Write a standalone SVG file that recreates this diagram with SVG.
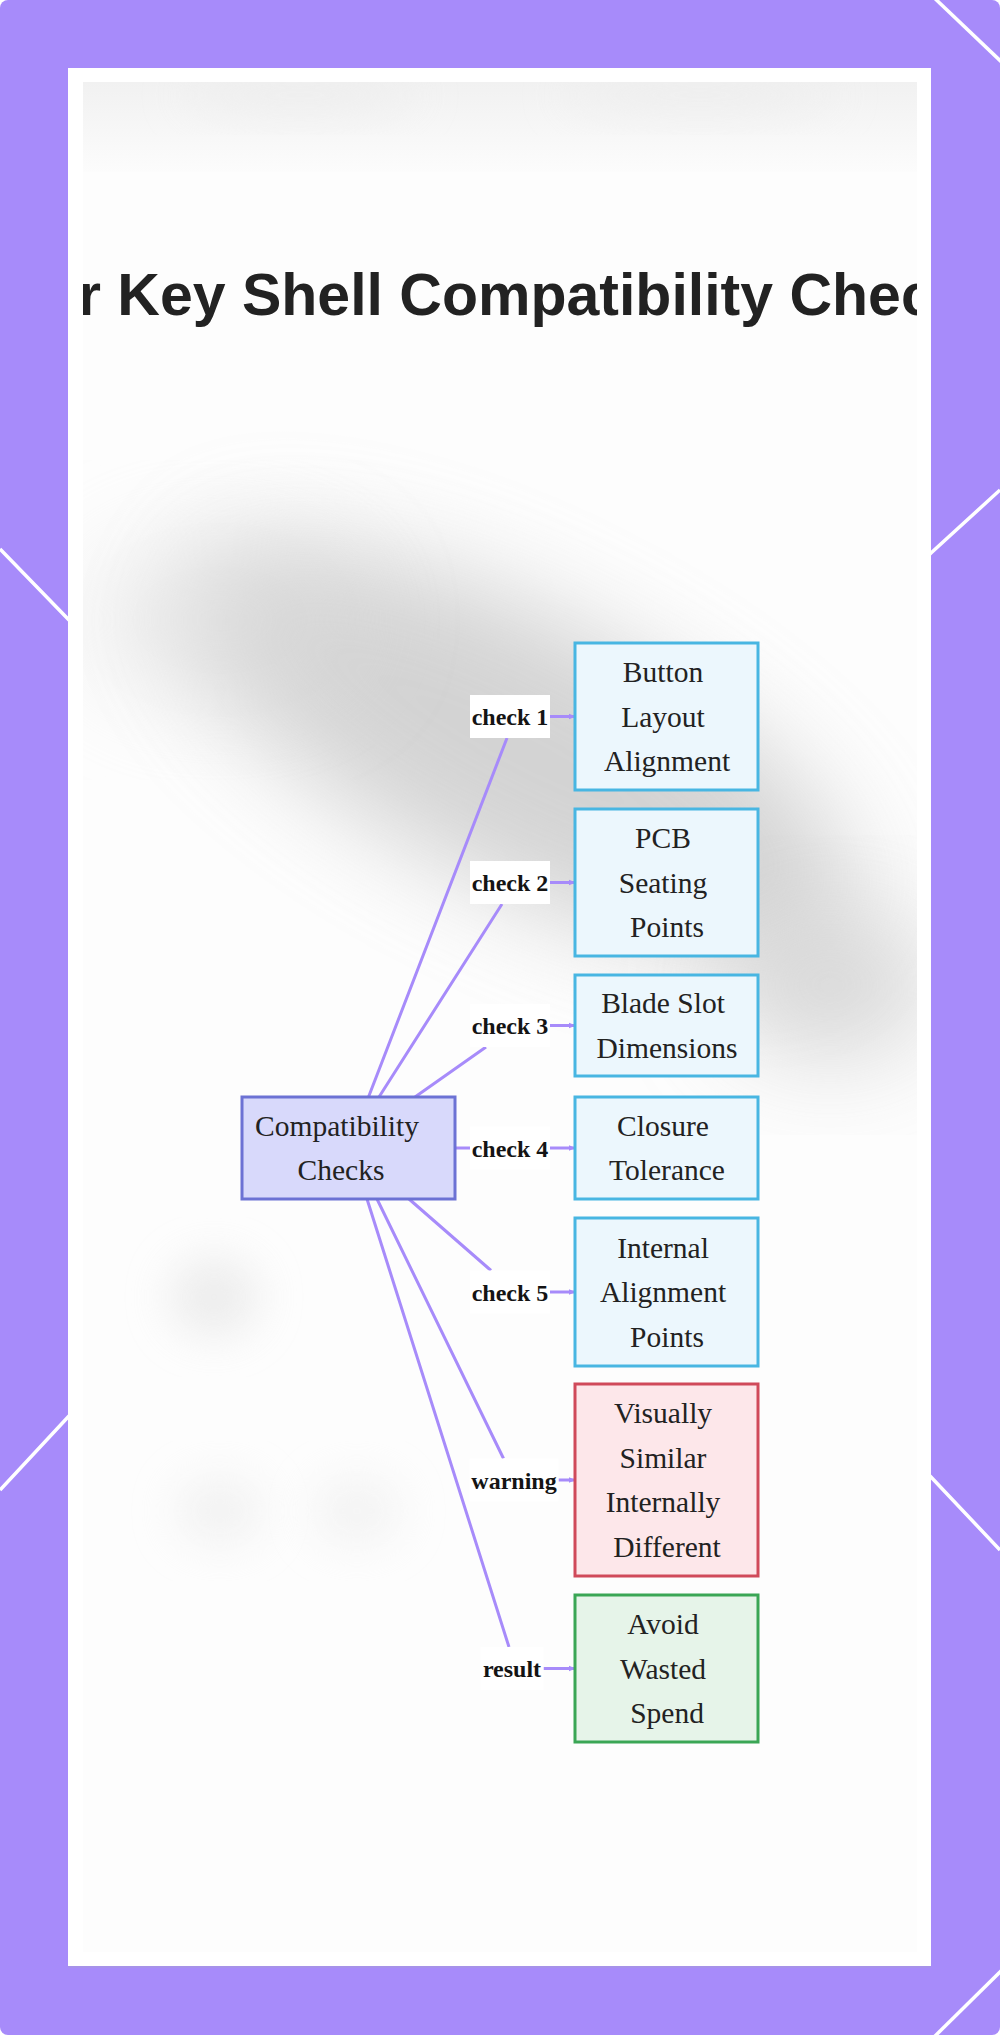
<svg xmlns="http://www.w3.org/2000/svg" width="1000" height="2035" viewBox="0 0 1000 2035">
  <style>
    .deco { fill: none; stroke: #ffffff; stroke-width: 3.5; }
    .title { font-family: "Liberation Sans", Arial, sans-serif; font-weight: bold; font-size: 59px; fill: #222222; }
    .nt { font-family: "Liberation Serif", "Times New Roman", serif; font-size: 29.5px; fill: #222222; text-anchor: middle; }
    .el { font-family: "Liberation Serif", "Times New Roman", serif; font-weight: bold; font-size: 24px; fill: #141414; text-anchor: middle; }
    .lbg { fill: #ffffff; }
    .edge { fill: none; stroke: #a78bfa; stroke-width: 3; }
    .root { fill: #d8d9fb; stroke: #6c72d4; stroke-width: 3; }
    .check { fill: #ecf7fd; stroke: #48b6e2; stroke-width: 3; }
    .warn { fill: #fde7ea; stroke: #d04a5a; stroke-width: 3; }
    .ok { fill: #e6f4e9; stroke: #3aa655; stroke-width: 3; }
  </style>
  <defs>
    <marker id="arrow" viewBox="0 0 10 10" refX="9" refY="5" markerWidth="7" markerHeight="7" markerUnits="userSpaceOnUse" orient="auto">
      <path d="M0,1 L10,5 L0,9 z" fill="#a78bfa"/>
    </marker>
    <clipPath id="inner">
      <rect x="83" y="82" width="834" height="1870"/>
    </clipPath>
    <linearGradient id="topband" x1="0" y1="0" x2="0" y2="1">
      <stop offset="0" stop-color="#f1f1f1"/>
      <stop offset="1" stop-color="#fcfcfc"/>
    </linearGradient>
    <filter id="blur" x="-50%" y="-50%" width="200%" height="200%">
      <feGaussianBlur stdDeviation="50"/>
    </filter>
    <filter id="blurS" x="-50%" y="-50%" width="200%" height="200%">
      <feGaussianBlur stdDeviation="22"/>
    </filter>
  </defs>

  <!-- background -->
  <rect x="0" y="0" width="1000" height="2035" fill="#ffffff"/>
  <rect x="0" y="0" width="1000" height="2035" rx="8" fill="#a78bfa"/>
  <g id="decor-lines">
    <path class="deco" d="M905,-30 L1010,70"/>
    <path class="deco" d="M0,549 L68,619 L931,1477 L1000,1550"/>
    <path class="deco" d="M0,1490 L68,1417 L931,553 L1000,490"/>
    <path class="deco" d="M930,2041 L1006,1966"/>
  </g>

  <!-- panel -->
  <rect x="68" y="69" width="863" height="1899" fill="#a59ad8" opacity="0.5"/>
  <rect x="68" y="68" width="863" height="1898" fill="#ffffff"/>
  <g id="backdrop" clip-path="url(#inner)">
    <rect x="83" y="82" width="834" height="1870" fill="#fdfdfd"/>
    <rect x="83" y="82" width="834" height="90" fill="url(#topband)"/>
    <ellipse cx="300" cy="95" rx="120" ry="20" fill="#ebebeb" opacity="0.6" filter="url(#blurS)"/>
    <ellipse cx="700" cy="95" rx="140" ry="20" fill="#ebebeb" opacity="0.6" filter="url(#blurS)"/>
    <ellipse cx="520" cy="750" rx="370" ry="135" transform="rotate(27 520 750)" fill="#c6c6c6" opacity="0.75" filter="url(#blur)"/>
    <ellipse cx="830" cy="985" rx="110" ry="75" fill="#c9c9c9" opacity="0.7" filter="url(#blur)"/>
    <ellipse cx="220" cy="620" rx="140" ry="80" fill="#dcdcdc" opacity="0.5" filter="url(#blur)"/>
    <ellipse cx="214" cy="1297" rx="45" ry="40" fill="#e2e2e2" opacity="0.6" filter="url(#blurS)"/>
    <ellipse cx="220" cy="1511" rx="45" ry="35" fill="#e8e8e8" opacity="0.5" filter="url(#blurS)"/>
    <ellipse cx="357" cy="1511" rx="45" ry="35" fill="#eaeaea" opacity="0.5" filter="url(#blurS)"/>
    <text class="title" x="78" y="315">r Key Shell Compatibility Chec</text>
  </g>

  <!-- connectors -->
  <g id="connectors">
    <path class="edge" d="M368.5,1097 L507,738 M550,716.5 L575,716.5" marker-end="url(#arrow)"/>
    <path class="edge" d="M379,1097 L502,904 M550,882.5 L575,882.5" marker-end="url(#arrow)"/>
    <path class="edge" d="M415,1097 L486,1047 M550,1025.5 L575,1025.5" marker-end="url(#arrow)"/>
    <path class="edge" d="M455,1148 L470,1148 M550,1148 L575,1148" marker-end="url(#arrow)"/>
    <path class="edge" d="M409,1199 L491,1270.5 M550,1292 L575,1292" marker-end="url(#arrow)"/>
    <path class="edge" d="M377,1199 L503.5,1458.5 M558.5,1480 L575,1480" marker-end="url(#arrow)"/>
    <path class="edge" d="M367,1199 L509,1647 M543.5,1668.5 L575,1668.5" marker-end="url(#arrow)"/>

    <g id="edge-labels">
      <rect class="lbg" x="470" y="695" width="80" height="43"/>
      <text class="el" x="510" y="725">check 1</text>
      <rect class="lbg" x="470" y="861" width="80" height="43"/>
      <text class="el" x="510" y="891">check 2</text>
      <rect class="lbg" x="470" y="1004" width="80" height="43"/>
      <text class="el" x="510" y="1034">check 3</text>
      <rect class="lbg" x="470" y="1126.5" width="80" height="43"/>
      <text class="el" x="510" y="1156.5">check 4</text>
      <rect class="lbg" x="470" y="1270.5" width="80" height="43"/>
      <text class="el" x="510" y="1300.5">check 5</text>
      <rect class="lbg" x="469.5" y="1458.5" width="89" height="43"/>
      <text class="el" x="514" y="1488.5">warning</text>
      <rect class="lbg" x="480.5" y="1647" width="63" height="43"/>
      <text class="el" x="512" y="1677">result</text>
    </g>
  </g>

  <!-- nodes -->
  <g id="node-root">
    <rect class="root" x="242" y="1097" width="213" height="102"/>
    <text class="nt" x="337" y="1135.8">Compatibility</text>
    <text class="nt" x="341" y="1180.2">Checks</text>
  </g>
  <g id="node-button">
    <rect class="check" x="575" y="643" width="183" height="147"/>
    <text class="nt" x="663" y="682">Button</text>
    <text class="nt" x="663" y="726.5">Layout</text>
    <text class="nt" x="667" y="771">Alignment</text>
  </g>
  <g id="node-pcb">
    <rect class="check" x="575" y="809" width="183" height="147"/>
    <text class="nt" x="663" y="848">PCB</text>
    <text class="nt" x="663" y="892.5">Seating</text>
    <text class="nt" x="667" y="937">Points</text>
  </g>
  <g id="node-blade">
    <rect class="check" x="575" y="975" width="183" height="101"/>
    <text class="nt" x="663" y="1013.3">Blade Slot</text>
    <text class="nt" x="667" y="1057.7">Dimensions</text>
  </g>
  <g id="node-closure">
    <rect class="check" x="575" y="1097" width="183" height="102"/>
    <text class="nt" x="663" y="1135.8">Closure</text>
    <text class="nt" x="667" y="1180.2">Tolerance</text>
  </g>
  <g id="node-internal">
    <rect class="check" x="575" y="1218" width="183" height="148"/>
    <text class="nt" x="663" y="1257.5">Internal</text>
    <text class="nt" x="663" y="1302">Alignment</text>
    <text class="nt" x="667" y="1346.5">Points</text>
  </g>
  <g id="node-warning">
    <rect class="warn" x="575" y="1384" width="183" height="192"/>
    <text class="nt" x="663" y="1423.3">Visually</text>
    <text class="nt" x="663" y="1467.8">Similar</text>
    <text class="nt" x="663" y="1512.3">Internally</text>
    <text class="nt" x="667" y="1556.8">Different</text>
  </g>
  <g id="node-result">
    <rect class="ok" x="575" y="1595" width="183" height="147"/>
    <text class="nt" x="663" y="1634">Avoid</text>
    <text class="nt" x="663" y="1678.5">Wasted</text>
    <text class="nt" x="667" y="1723">Spend</text>
  </g>
</svg>
